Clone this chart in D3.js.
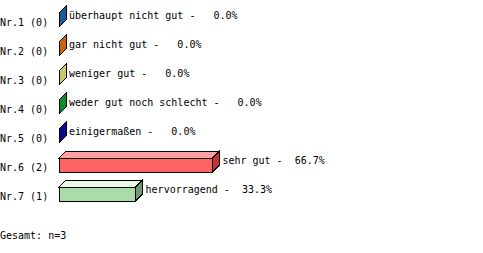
<!DOCTYPE html>
<html>
<head>
<meta charset="utf-8">
<script src="https://cdn.jsdelivr.net/npm/d3@7/dist/d3.min.js"></script>
<style>
  body { margin: 0; background: #fff; }
  text { font-family: "DejaVu Sans Mono", monospace; font-size: 10px; fill: #000; white-space: pre; }
</style>
</head>
<body>
<svg id="chart" width="483" height="253"></svg>
<script>
const rowLabels = ["Nr.1", "Nr.2", "Nr.3", "Nr.4", "Nr.5", "Nr.6", "Nr.7"];
const answers = ["überhaupt nicht gut", "gar nicht gut", "weniger gut", "weder gut noch schlecht", "einigermaßen", "sehr gut", "hervorragend"];
const counts = [0, 0, 0, 0, 0, 2, 1];
const percents = [0.0, 0.0, 0.0, 0.0, 0.0, 66.7, 33.3];
const frontColours = ["#1a5a96", "#c8640a", "#c8c864", "#0a8c28", "#0a0a8c", "#ff6464", "#aadcaa"];
const topColours = ["#1a5a96", "#c8640a", "#c8c864", "#0a8c28", "#0a0a8c", "#ffa0a0", "#e8fae8"];
const sideColours = ["#1a5a96", "#c8640a", "#c8c864", "#0a8c28", "#0a0a8c", "#c83232", "#6e9c6e"];
const total = 3;

const rows = rowLabels.map((r, i) => ({
  label: r, answer: answers[i], count: counts[i], pct: percents[i],
  front: frontColours[i], top: topColours[i], side: sideColours[i]
}));

const svg = d3.select("#chart");
const left = 59, depth = 7, barH = 14;

const xScale = d3.scaleLinear().domain([0, 100]).range([0, 230]);
const yScale = d3.scaleBand().domain(rowLabels).range([13, 13 + 29 * rowLabels.length]).paddingInner(0);

const g = svg.append("g").attr("shape-rendering", "crispEdges");

const row = g.selectAll("g.row").data(rows).enter().append("g")
  .attr("class", "row")
  .attr("transform", d => `translate(0,${yScale(d.label)})`);

// left label
row.append("text")
  .attr("x", 0).attr("y", 13)
  .text(d => `${d.label} (${d.count})`);

// front face
row.filter(d => xScale(d.pct) > 0).append("rect")
  .attr("x", left).attr("y", 0)
  .attr("width", d => xScale(d.pct)).attr("height", barH)
  .attr("fill", d => d.front).attr("stroke", "#000");

// top face
row.filter(d => xScale(d.pct) > 0).append("path")
  .attr("d", d => {
    const w = xScale(d.pct);
    return `M${left},0 L${left + depth},${-depth} L${left + w + depth},${-depth} L${left + w},0 Z`;
  })
  .attr("fill", d => d.top).attr("stroke", "#000");

// side face
row.append("path")
  .attr("d", d => {
    const x = left + xScale(d.pct);
    return `M${x},0 L${x + depth},${-depth} L${x + depth},${barH - depth} L${x},${barH} Z`;
  })
  .attr("fill", d => d.side).attr("stroke", "#000");

// value label
row.append("text")
  .attr("x", d => left + xScale(d.pct) + depth + 3)
  .attr("y", 6)
  .text(d => `${d.answer} - ${d3.format("5.1f")(d.pct)}%`);

svg.append("text").attr("x", 0).attr("y", 239).text(`Gesamt: n=${total}`);
</script>
</body>
</html>
